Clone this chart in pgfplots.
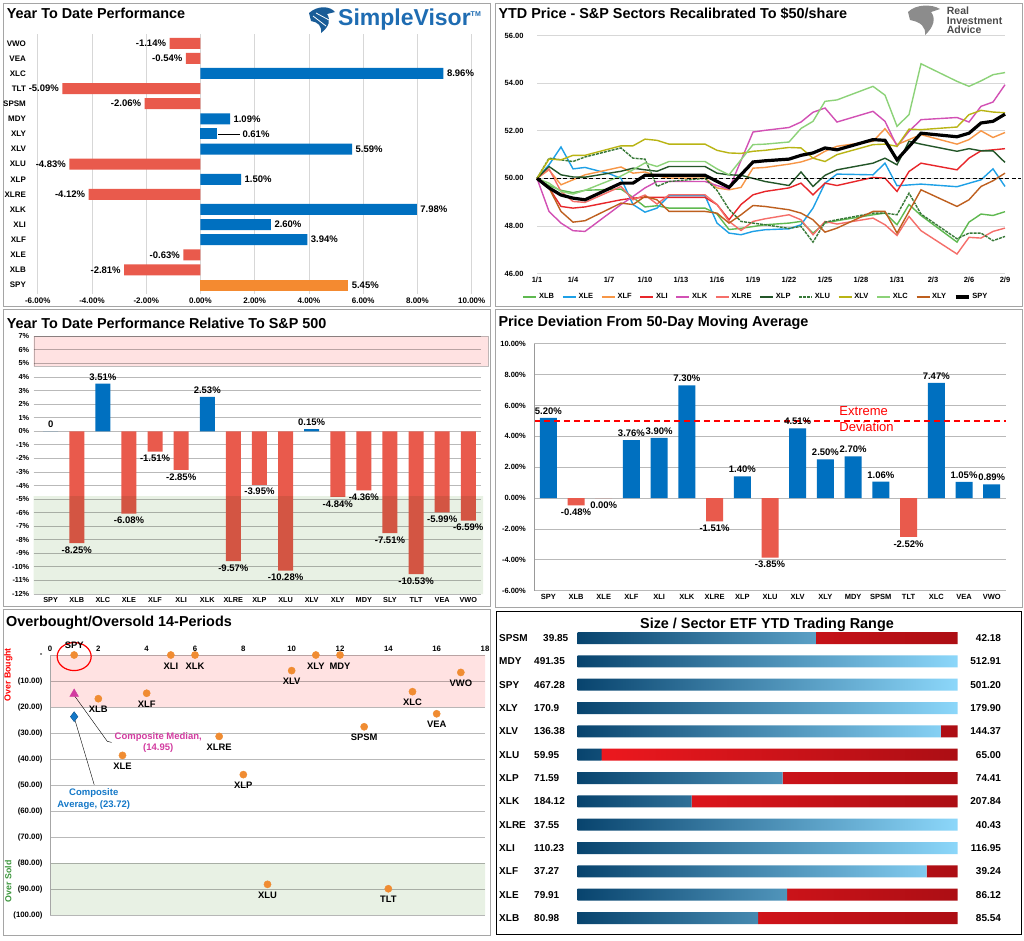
\documentclass[border=0pt]{standalone}
\usepackage{fontspec}
\setmainfont{Liberation Sans}
\usepackage{pgfplots}
\pgfplotsset{compat=1.18}

\definecolor{barblue}{RGB}{0,112,192}
\definecolor{barred}{RGB}{233,90,76}
\definecolor{barorange}{RGB}{244,138,48}
\definecolor{gridgray}{RGB}{215,215,215}
\definecolor{framegray}{RGB}{165,165,165}
\definecolor{bandpink}{RGB}{255,226,226}
\definecolor{bandgreen}{RGB}{232,241,228}
\definecolor{ptorange}{RGB}{240,140,50}
\definecolor{svblue}{RGB}{30,108,178}
\definecolor{medmag}{RGB}{210,60,160}
\definecolor{avgblue}{RGB}{20,120,200}
\definecolor{rngdark}{RGB}{8,68,110}
\definecolor{rngmid}{RGB}{0,150,215}
\definecolor{rnglight}{RGB}{140,215,250}
\definecolor{rngred}{RGB}{236,24,30}
\definecolor{rngdred}{RGB}{172,14,20}
\definecolor{cXLB}{RGB}{95,185,80}
\definecolor{cXLE}{RGB}{30,160,230}
\definecolor{cXLF}{RGB}{247,150,70}
\definecolor{cXLI}{RGB}{232,38,42}
\definecolor{cXLK}{RGB}{210,80,180}
\definecolor{cXLRE}{RGB}{245,110,105}
\definecolor{cXLP}{RGB}{35,85,40}
\definecolor{cXLU}{RGB}{55,120,55}
\definecolor{cXLV}{RGB}{185,180,20}
\definecolor{cXLC}{RGB}{140,210,120}
\definecolor{cXLY}{RGB}{190,95,30}

\pgfkeys{/pgf/number format/pct/.style={fixed, fixed zerofill, precision=2}}
\newcommand\ttl{\fontsize{14.4}{16}\selectfont\bfseries}
\newcommand\lbl{\fontsize{9.5}{11}\selectfont\bfseries}
\pgfplotsset{
  every axis/.append style={scale only axis, /pgf/number format/assume math mode=true},
  pbar/.style={ybar, bar shift=0pt, draw=none,
    nodes near coords={\pgfmathprintnumber[pct]{\pgfplotspointmeta}\%},
    every node near coord/.append style={font=\lbl}},
}

\begin{document}
\begin{tikzpicture}[x=1pt,y=-1pt]
\fill[white] (0,0) rectangle (1024,940);
\draw[framegray, line width=1pt] (3,3) rectangle (490,306);
\draw[framegray, line width=1pt] (495,3) rectangle (1022,306);
\draw[framegray, line width=1pt] (3,309) rectangle (490,606);
\draw[framegray, line width=1pt] (495,309) rectangle (1022,607);
\draw[framegray, line width=1pt] (3,609) rectangle (490,935);
\draw[black, line width=1pt] (496.5,611) rectangle (1021.5,934);

% logos
\fill[svblue!85!black] (309,13) .. controls (318,5) and (330,6) .. (335,12) -- (327,14)
  .. controls (331,20) and (329,27) .. (321,33) .. controls (322,26) and (318,22) .. (311,21) -- cycle;
\draw[white, line width=0.8pt] (313,16) -- (326,26) (316,13) -- (329,20);
\fill[black!45] (908,12) .. controls (916,4) and (932,4) .. (940,9) -- (931,12)
  .. controls (936,18) and (934,27) .. (925,35) .. controls (926,27) and (921,22) .. (910,20) -- cycle;

\node[anchor=base west, inner sep=0, font=\ttl] at (6.7,18.3) {Year To Date Performance};
\node[anchor=west, inner sep=0, text=svblue, font=\fontsize{23}{23}\selectfont\bfseries] at (338,20) {SimpleVisor\textsuperscript{\fontsize{7}{7}\selectfont TM}};
\node[anchor=base west, inner sep=0, font=\ttl] at (498.3,18.3) {YTD Price - S\&P Sectors Recalibrated To \$50/share};
\node[anchor=north west, inner sep=0, align=left, text=black!70, font=\fontsize{10.5}{9.5}\selectfont\bfseries] at (946.7,7) {Real\\Investment\\Advice};
\node[anchor=base west, inner sep=0, font=\ttl] at (6.7,328) {Year To Date Performance Relative To S\&P 500};
\node[anchor=base west, inner sep=0, font=\ttl] at (498.3,326.3) {Price Deviation From 50-Day Moving Average};
\node[anchor=base west, inner sep=0, font=\ttl] at (6,626.3) {Overbought/Oversold 14-Periods};
\node[anchor=base, inner sep=0, font=\ttl] at (767,628.7) {Size / Sector ETF YTD Trading Range};
\node[rotate=90, inner sep=0, text=red, font=\fontsize{8.8}{10}\selectfont\bfseries] at (8.3,674.7) {Over Bought};
\node[rotate=90, inner sep=0, text={rgb,255:red,60;green,150;blue,60}, font=\fontsize{8.8}{10}\selectfont\bfseries] at (8.3,881.3) {Over Sold};

% ---------- panel 1: YTD performance
\begin{axis}[at={(37.7pt,-294.1pt)}, anchor=south west, width=434pt, height=259.9pt,
  xmin=-6, xmax=10, ymin=-0.6, ymax=16.6, clip=false,
  xtick={-6,-4,...,10}, ytick={0,...,16},
  yticklabels={SPY,XLB,XLE,XLF,XLI,XLK,XLRE,XLP,XLU,XLV,XLY,MDY,SPSM,TLT,XLC,VEA,VWO},
  xticklabel={\pgfmathprintnumber[pct]{\tick}\%},
  xmajorgrids, grid style={gridgray, line width=0.8pt},
  axis line style={draw=none}, major tick style={draw=none},
  ticklabel style={font=\fontsize{8}{9}\selectfont\bfseries},
  yticklabel style={xshift=-4pt},
  xbar, bar width=11pt,
  nodes near coords={\pgfmathprintnumber[pct]{\pgfplotspointmeta}\%},
  every node near coord/.append style={font=\lbl},
]
\addplot[fill=barred, draw=none, bar shift=0pt, every node near coord/.append style={anchor=east}]
  coordinates {(-1.14,16)(-0.54,15)(-5.09,13)(-2.06,12)(-4.83,8)(-4.12,6)(-0.63,2)(-2.81,1)};
\addplot[fill=barblue, draw=none, bar shift=0pt, every node near coord/.append style={anchor=west}]
  coordinates {(8.96,14)(1.09,11)(5.59,9)(1.50,7)(7.98,5)(2.60,4)(3.94,3)};
\addplot[fill=barblue, draw=none, bar shift=0pt, every node near coord/.append style={anchor=west, xshift=22pt}]
  coordinates {(0.61,10)};
\addplot[fill=barorange, draw=none, bar shift=0pt, every node near coord/.append style={anchor=west}]
  coordinates {(5.45,0)};
\draw[black, line width=0.7pt] (axis cs:0.66,10) -- (axis cs:1.45,10);
\end{axis}

% ---------- panel 2: recalibrated prices
\begin{axis}[at={(537pt,-273.5pt)}, anchor=south west, width=468pt, height=237.8pt,
  xmin=0, xmax=39, ymin=46, ymax=56, clip=false,
  xtick={0,3,...,39}, xticklabels={1/1,1/4,1/7,1/10,1/13,1/16,1/19,1/22,1/25,1/28,1/31,2/3,2/6,2/9},
  ytick={46,48,...,56}, yticklabel={\pgfmathprintnumber[pct]{\tick}},
  ymajorgrids, grid style={gridgray, line width=0.8pt},
  axis line style={draw=none}, major tick style={draw=none},
  ticklabel style={font=\fontsize{7.5}{9}\selectfont\bfseries},
  yticklabel style={xshift=-10pt},
  legend style={at={(0.468,-0.075)}, anchor=north, draw=none, fill=none, legend columns=12,
    font=\fontsize{7.5}{9}\selectfont\bfseries, inner sep=0pt,
    /tikz/every even column/.append style={column sep=6pt}},
  legend image code/.code={\draw[#1] (0pt,0pt) -- (13pt,0pt);},
]
\addplot[cXLB, line width=1.4pt] coordinates {(0,50)(1,49.7)(2,49.5)(3,49.4)(4,49.5)(7,49.55)(8,49.2)(9,48.8)(10,48.85)(11,48.75)(14,48.75)(15,48.5)(16,47.85)(17,47.9)(19,48.05)(21,48.12)(22,48.19)(23,47.7)(24,48.12)(25,48.22)(28,48.47)(29,48.54)(30,48.05)(31,48.9)(32,48.44)(35,47.32)(36,48.16)(37,48.5)(38,48.44)(39,48.6)};
\addlegendentry{XLB}
\addplot[cXLE, line width=1.4pt] coordinates {(0,50)(1,50.57)(2,51.32)(3,50.4)(4,50.46)(6,50.2)(7,50.0)(8,48.9)(9,48.58)(10,48.75)(11,49.27)(14,49.27)(15,48.12)(16,47.7)(17,47.63)(18,47.77)(19,47.84)(21,47.88)(22,48.05)(23,48.75)(24,49.8)(25,50.18)(28,50.15)(29,50.64)(30,49.69)(32,49.76)(35,49.65)(37,49.94)(38,50.4)(39,49.66)};
\addlegendentry{XLE}
\addplot[cXLF, line width=1.4pt] coordinates {(0,50)(1,50.36)(2,49.73)(3,49.94)(4,50.15)(7,50.48)(8,50.22)(9,50.27)(10,50.11)(11,50.01)(14,50.01)(15,49.6)(16,49.52)(17,49.62)(18,50.43)(19,50.46)(21,50.6)(22,50.69)(23,50.85)(24,51.14)(25,51.35)(28,51.56)(29,52.09)(30,51.42)(31,51.63)(32,51.84)(35,51.44)(36,51.63)(37,52.0)(38,51.72)(39,51.93)};
\addlegendentry{XLF}
\addplot[cXLI, line width=1.4pt] coordinates {(0,50)(1,49.6)(2,48.82)(3,48.75)(4,48.8)(7,49.1)(8,49.17)(9,49.2)(10,49.2)(11,49.2)(14,49.2)(15,48.9)(16,48.26)(17,48.9)(18,49.31)(19,49.45)(21,49.6)(22,49.8)(23,49.31)(24,49.8)(25,49.7)(28,50.04)(29,50.01)(30,49.45)(31,50.29)(32,50.64)(35,50.36)(36,50.85)(37,51.16)(38,51.2)(39,51.25)};
\addlegendentry{XLI}
\addplot[cXLK, line width=1.4pt] coordinates {(0,50)(1,48.61)(2,48.12)(3,47.8)(4,47.77)(7,48.9)(8,49.24)(9,49.6)(10,49.87)(11,49.87)(14,49.87)(15,49.7)(16,49.55)(18,51.95)(19,52.02)(21,52.14)(22,52.37)(23,52.78)(24,52.96)(25,52.37)(28,52.82)(29,52.4)(30,51.35)(31,51.98)(32,52.47)(35,52.56)(36,52.37)(37,53.03)(38,53.21)(39,53.94)};
\addlegendentry{XLK}
\addplot[cXLRE, line width=1.4pt] coordinates {(0,50)(1,50.4)(2,49.45)(3,49.03)(4,48.99)(7,49.66)(8,49.1)(9,49.3)(10,48.92)(11,49.31)(14,49.31)(15,48.9)(16,48.19)(17,47.81)(18,48.19)(19,48.3)(21,48.47)(22,48.26)(23,47.63)(24,48.19)(25,48.08)(28,48.33)(29,48.05)(30,47.6)(31,48.4)(32,47.8)(35,46.82)(36,47.52)(37,47.49)(38,47.77)(39,47.91)};
\addlegendentry{XLRE}
\addplot[cXLP, line width=1.4pt] coordinates {(0,50)(1,50.5)(2,50.15)(3,50.06)(4,50.05)(7,50.3)(8,50.43)(9,50.36)(10,50.3)(11,50.5)(14,50.5)(15,50.22)(16,50.15)(17,50.13)(19,49.87)(21,49.7)(22,50.27)(23,49.66)(24,50.13)(25,50.36)(28,50.64)(29,50.85)(30,50.57)(31,51.56)(32,51.44)(35,51.14)(36,51.25)(37,51.16)(38,51.16)(39,50.67)};
\addlegendentry{XLP}
\addplot[cXLU, line width=1.4pt, dash pattern=on 3pt off 1pt] coordinates {(0,50)(1,50.85)(2,50.78)(3,50.71)(4,50.9)(7,51.28)(8,50.85)(9,50.81)(10,49.66)(11,49.87)(14,50.0)(15,49.5)(16,48.7)(17,48.19)(19,48.05)(21,47.9)(22,47.98)(23,47.32)(24,48.16)(25,48.26)(28,48.54)(29,48.54)(30,48.47)(31,49.38)(32,48.5)(35,47.46)(36,47.7)(37,47.7)(38,47.38)(39,47.56)};
\addlegendentry{XLU}
\addplot[cXLV, line width=1.4pt] coordinates {(0,50)(1,50.81)(2,50.78)(3,50.97)(4,50.97)(7,51.37)(8,51.37)(9,51.65)(10,51.6)(11,51.44)(14,51.44)(15,51.18)(16,51.07)(17,51.05)(18,51.14)(19,51.18)(21,51.3)(22,51.28)(23,50.85)(24,50.71)(25,51.0)(28,51.42)(29,51.44)(30,51.35)(31,52.07)(32,52.05)(35,52.16)(36,52.68)(37,52.86)(38,52.79)(39,52.76)};
\addlegendentry{XLV}
\addplot[cXLC, line width=1.4pt] coordinates {(0,50)(1,49.8)(2,49.45)(3,49.34)(4,49.5)(7,50.1)(8,50.36)(9,50.65)(10,50.5)(11,50.71)(14,50.71)(15,50.4)(16,50.15)(18,51.42)(19,51.44)(21,51.53)(22,52.1)(23,52.4)(24,53.24)(25,53.3)(28,53.87)(29,53.5)(30,52.19)(31,52.68)(32,54.82)(35,54.08)(36,53.87)(37,54.1)(38,54.36)(39,54.45)};
\addlegendentry{XLC}
\addplot[cXLY, line width=1.4pt] coordinates {(0,50)(1,49.6)(2,48.61)(3,48.16)(4,48.22)(7,48.96)(8,48.9)(9,49.24)(10,49.1)(11,48.61)(14,48.61)(15,48.54)(16,48.12)(17,48.47)(18,48.86)(19,48.82)(21,48.68)(22,48.54)(23,48.26)(24,47.74)(25,47.91)(28,48.61)(29,48.61)(30,47.7)(32,49.52)(35,48.82)(36,49.1)(37,49.66)(38,49.9)(39,50.22)};
\addlegendentry{XLY}
\addplot[black, line width=1.3pt, dash pattern=on 4pt off 2.5pt, forget plot] coordinates {(0,50)(40.3,50)};
\addplot[black, line width=3.2pt] coordinates {(0,50)(1,49.6)(2,49.3)(3,49.17)(4,49.1)(7,49.8)(8,49.8)(9,50.13)(14,50.13)(16,49.62)(18,50.69)(19,50.74)(21,50.81)(22,50.97)(23,51.07)(24,51.28)(25,51.2)(28,51.63)(29,51.6)(30,50.78)(32,51.9)(35,51.75)(36,51.9)(37,52.33)(38,52.4)(39,52.7)};
\addlegendentry{SPY}
\end{axis}

% ---------- panel 3: relative to S&P 500
\begin{axis}[at={(33.7pt,-594pt)}, anchor=south west, width=447.6pt, height=257.7pt,
  clip=false,
  xmin=-0.65, xmax=16.5, ymin=-12, ymax=7,
  xtick={0,...,16}, xticklabels={SPY,XLB,XLC,XLE,XLF,XLI,XLK,XLRE,XLP,XLU,XLV,XLY,MDY,SLY,TLT,VEA,VWO},
  ytick={-12,...,7}, yticklabel={\pgfmathprintnumber{\tick}\%},
  ymajorgrids, grid style={gray!55, line width=0.8pt},
  axis line style={draw=none}, major tick style={draw=none},
  ticklabel style={font=\fontsize{7.3}{9}\selectfont\bfseries},
  yticklabel style={xshift=-1pt},
  bar width=15pt,
]
\addplot[fill=bandpink, draw=black!25, blend mode=multiply, forget plot] coordinates {(-0.65,4.8)(16.77,4.8)(16.77,7)(-0.65,7)(-0.65,4.8)};
\addplot[pbar, fill=barblue, every node near coord/.append style={anchor=south}]
  coordinates {(2,3.51)(6,2.53)(10,0.15)};
\addplot[pbar, fill=barred, every node near coord/.append style={anchor=north}]
  coordinates {(1,-8.25)(3,-6.08)(4,-1.51)(5,-2.85)(7,-9.57)(8,-3.95)(9,-10.28)(11,-4.84)(12,-4.36)(13,-7.51)(14,-10.53)(15,-5.99)(16,-6.59)};
\addplot[pbar, fill=barblue, nodes near coords={0}, every node near coord/.append style={anchor=south}]
  coordinates {(0,0)};
\addplot[fill=bandgreen, draw=none, blend mode=multiply, forget plot] coordinates {(-0.65,-12)(16.57,-12)(16.57,-4.79)(-0.65,-4.79)(-0.65,-12)};
\end{axis}

% ---------- panel 4: deviation from 50-day MA
\begin{axis}[at={(534.3pt,-590.7pt)}, anchor=south west, width=471.4pt, height=247pt,
  clip=false,
  xmin=-0.505, xmax=16.505, ymin=-6, ymax=10,
  xtick={0,...,16}, xticklabels={SPY,XLB,XLE,XLF,XLI,XLK,XLRE,XLP,XLU,XLV,XLY,MDY,SPSM,TLT,XLC,VEA,VWO},
  ytick={-6,-4,...,10}, yticklabel={\pgfmathprintnumber[pct]{\tick}\%},
  ymajorgrids, grid style={gray!55, line width=0.8pt},
  axis line style={draw=none}, major tick style={draw=none},
  ticklabel style={font=\fontsize{7.5}{9}\selectfont\bfseries},
  yticklabel style={xshift=-5pt},
  bar width=17pt,
]
\addplot[pbar, fill=barblue, every node near coord/.append style={anchor=south}]
  coordinates {(0,5.20)(3,3.76)(4,3.90)(5,7.30)(7,1.40)(9,4.51)(10,2.50)(11,2.70)(12,1.06)(14,7.47)(15,1.05)(16,0.89)};
\addplot[pbar, fill=barred, every node near coord/.append style={anchor=north}]
  coordinates {(1,-0.48)(2,0.00)(6,-1.51)(8,-3.85)(13,-2.52)};
\addplot[red, line width=2pt, dash pattern=on 6pt off 4pt] coordinates {(-0.505,5)(16.505,5)};
\draw[gray!80, line width=0.8pt] (rel axis cs:0,0) -- (rel axis cs:0,1);
\node[anchor=west, align=left, text=red, font=\fontsize{13}{15.5}\selectfont, inner sep=0] at (axis cs:10.5,5.12) {Extreme\\Deviation};
\end{axis}

% ---------- panel 5: overbought / oversold
\begin{axis}[at={(50pt,-915pt)}, anchor=south west, width=435pt, height=260pt,
  clip=false,
  xmin=0, xmax=18, ymin=-100, ymax=0,
  xtick={0,2,...,18}, xticklabel pos=upper,
  ytick={-100,-90,...,0},
  yticklabels={(100.00),(90.00),(80.00),(70.00),(60.00),(50.00),(40.00),(30.00),(20.00),(10.00),-},
  ymajorgrids, grid style={gray!55, line width=0.8pt},
  axis line style={draw=none}, major tick style={draw=none},
  ticklabel style={font=\fontsize{7.8}{9}\selectfont\bfseries},
  yticklabel style={xshift=-4pt},
]
\addplot[fill=bandpink, draw=none, blend mode=multiply] coordinates {(0,0)(18,0)(18,-20)(0,-20)(0,0)};
\addplot[fill=bandgreen, draw=none, blend mode=multiply] coordinates {(0,-80)(18,-80)(18,-100)(0,-100)(0,-80)};
\draw[gray!70, line width=0.8pt] (rel axis cs:0,0) -- (rel axis cs:0,1);
\draw[black] (axis cs:1,-15.5) -- (axis cs:2.37,-33.2) -- (axis cs:2.55,-33.6);
\draw[black] (axis cs:1,-24) -- (axis cs:1.83,-49.9);
\addplot[only marks, mark=*, mark size=3.6pt, mark options={fill=ptorange, draw=ptorange},
  point meta=explicit symbolic, nodes near coords,
  every node near coord/.append style={anchor=north, yshift=-4pt, font=\fontsize{9.4}{11}\selectfont\bfseries}]
  coordinates {(5,0)[XLI](6,0)[XLK](11,0)[XLY](12,0)[MDY](10,-6.0)[XLV](17,-6.7)[VWO](2,-16.8)[XLB](4,-14.7)[XLF](15,-14.1)[XLC](16,-22.6)[VEA](13,-27.6)[SPSM](7,-31.3)[XLRE](3,-38.6)[XLE](8,-46.0)[XLP](9,-88.2)[XLU](14,-89.9)[TLT]};
\addplot[only marks, mark=*, mark size=3.6pt, mark options={fill=ptorange, draw=ptorange},
  point meta=explicit symbolic, nodes near coords,
  every node near coord/.append style={anchor=south, yshift=3pt, font=\fontsize{9.4}{11}\selectfont\bfseries}]
  coordinates {(1,0)[SPY]};
\addplot[only marks, mark=triangle*, mark size=5pt, mark options={fill=medmag, draw=medmag}] coordinates {(1,-14.95)};
\addplot[only marks, mark=diamond*, mark size=5pt, mark options={fill=avgblue, draw=avgblue!70!black}] coordinates {(1,-23.72)};
\draw[red, line width=1.2pt] (axis cs:1,-0.6) ellipse [x radius=17pt, y radius=14pt];
\node[align=center, text=medmag, font=\fontsize{9.5}{11.3}\selectfont\bfseries] at (axis cs:4.48,-33.65) {Composite Median,\\(14.95)};
\node[align=center, text=avgblue, font=\fontsize{9.5}{11.7}\selectfont\bfseries] at (axis cs:1.81,-55.4) {Composite\\Average,\ (23.72)};
\end{axis}

% ---------- panel 6: YTD trading range
\begin{axis}[at={(577.7pt,-929.7pt)}, anchor=south west, width=380pt, height=303.3pt,
  xmin=0, xmax=1, ymin=-0.5, ymax=12.5, clip=false,
  xbar stacked, bar width=12pt,
  axis line style={draw=none}, major tick style={draw=none},
  xtick=\empty, ytick={0,...,12},
  yticklabels={{\makebox[35pt][l]{XLB}80.98},{\makebox[35pt][l]{XLE}79.91},{\makebox[35pt][l]{XLF}37.27},
    {\makebox[35pt][l]{XLI}110.23},{\makebox[35pt][l]{XLRE}37.55},{\makebox[35pt][l]{XLK}184.12},
    {\makebox[35pt][l]{XLP}71.59},{\makebox[35pt][l]{XLU}59.95},{\makebox[35pt][l]{XLV}136.38},
    {\makebox[35pt][l]{XLY}170.9},{\makebox[35pt][l]{SPY}467.28},{\makebox[35pt][l]{MDY}491.35},
    {\makebox[44pt][l]{SPSM}39.85}},
  yticklabel style={anchor=west, xshift=-82pt, font=\fontsize{10}{11}\selectfont\bfseries},
]
\addplot[draw=none, left color=rngdark, middle color=rngmid, right color=rnglight]
  coordinates {(0.475,0)(0.551,1)(0.918,2)(1,3)(1,4)(0.300,5)(0.539,6)(0.063,7)(0.956,8)(1,9)(1,10)(1,11)(0.627,12)};
\addplot[draw=none, left color=rngred, right color=rngdred]
  coordinates {(0.525,0)(0.449,1)(0.082,2)(0,3)(0,4)(0.700,5)(0.461,6)(0.937,7)(0.044,8)(0,9)(0,10)(0,11)(0.373,12)};
\addplot[draw=none, fill=none, point meta=explicit symbolic, nodes near coords,
  every node near coord/.append style={anchor=east, xshift=46.6pt, font=\fontsize{10}{11}\selectfont\bfseries}]
  coordinates {(0.001,0)[85.54](0.001,1)[86.12](0.001,2)[39.24](0.001,3)[116.95](0.001,4)[40.43](0.001,5)[207.84](0.001,6)[74.41](0.001,7)[65.00](0.001,8)[144.37](0.001,9)[179.90](0.001,10)[501.20](0.001,11)[512.91](0.001,12)[42.18]};
\end{axis}

\pgfresetboundingbox
\useasboundingbox (0,0) rectangle (1024,940);
\end{tikzpicture}
\end{document}
